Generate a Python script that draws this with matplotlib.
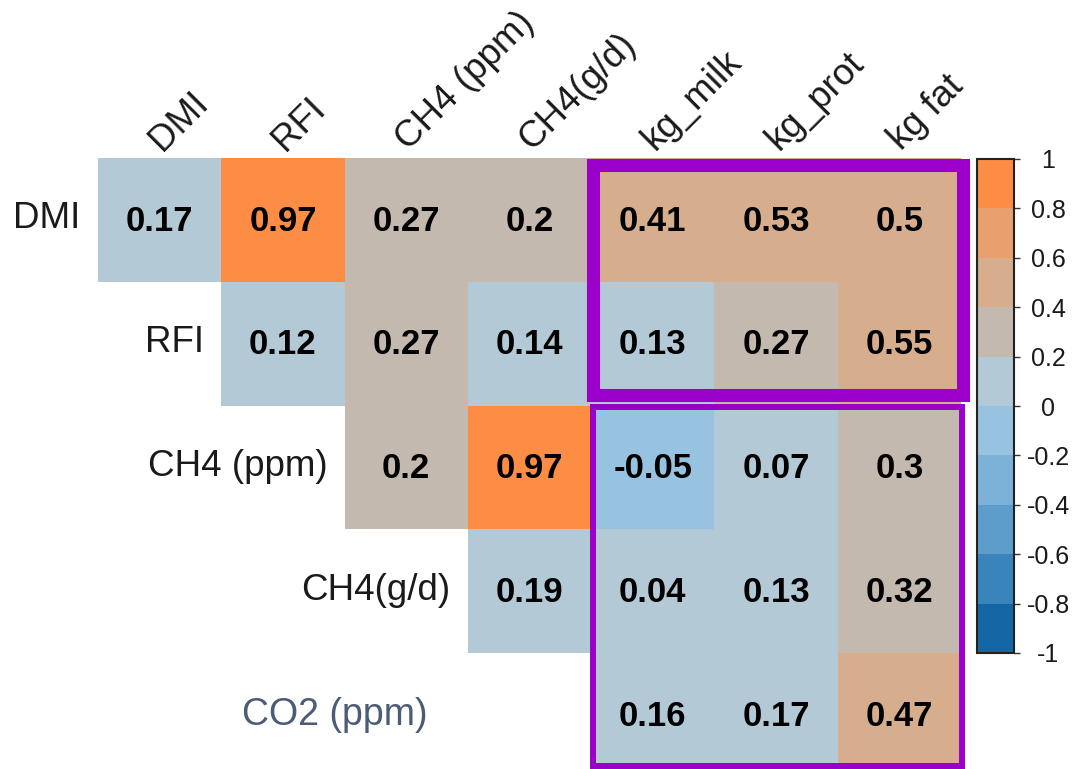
import numpy as np
import matplotlib
matplotlib.use('Agg')
import matplotlib.pyplot as plt
from matplotlib.colors import ListedColormap, BoundaryNorm
from matplotlib.patches import Rectangle

plt.rcParams['font.family'] = ['Liberation Sans', 'DejaVu Sans']

# Data
row_names = ['DMI', 'RFI', 'CH4 (ppm)', 'CH4(g/d)', 'CO2 (ppm)']
col_names = ['DMI', 'RFI', 'CH4 (ppm)', 'CH4(g/d)', 'kg_milk', 'kg_prot', 'kg fat']
dmi = [0.17, 0.97, 0.27, 0.2, 0.41, 0.53, 0.5]
rfi = [None, 0.12, 0.27, 0.14, 0.13, 0.27, 0.55]
ch4_ppm = [None, None, 0.2, 0.97, -0.05, 0.07, 0.3]
ch4_gd = [None, None, None, 0.19, 0.04, 0.13, 0.32]
co2_ppm = [None, None, None, None, 0.16, 0.17, 0.47]
cbar_ticks = [1, 0.8, 0.6, 0.4, 0.2, 0, -0.2, -0.4, -0.6, -0.8, -1]

rows = [dmi, rfi, ch4_ppm, ch4_gd, co2_ppm]
vals = np.array([[np.nan if v is None else v for v in r] for r in rows])
masked = np.ma.masked_invalid(vals)

colors = ['#1566a5', '#3a84bc', '#5c9dcb', '#7db2d8', '#97c3e1',
          '#b3c9d5', '#c4b9af', '#d7ae8d', '#e9a06f', '#fd8d45']
cmap = ListedColormap(colors)
bounds = np.round(np.linspace(-1, 1, 11), 1)
norm = BoundaryNorm(bounds, cmap.N)

fig = plt.figure(figsize=(10.72, 7.69), dpi=100)
ax = fig.add_axes([98/1072, -8/769, 863/1072, 619/769])
ax.pcolormesh(np.arange(-0.5, 7, 1), np.arange(-0.5, 5, 1), masked,
              cmap=cmap, norm=norm)
ax.set_xlim(-0.5, 6.5)
ax.set_ylim(4.5, -0.5)
ax.axis('off')

# cell values
for i in range(len(row_names)):
    for j in range(len(col_names)):
        v = vals[i, j]
        if not np.isnan(v):
            ax.text(j, i + 0.01, f'{v:g}', ha='center', va='center',
                    fontsize=25, fontweight='bold', color='black')

# row labels
for i, name in enumerate(row_names[:-1]):
    first = int(np.where(~np.isnan(vals[i]))[0][0])
    ax.text(first - 0.64, i - 0.01, name, ha='right', va='center',
            fontsize=26.5, color='#1a1a1a')
ax.text(1.42, 4, row_names[-1], ha='center', va='center',
        fontsize=27, color='#4b5b78')

# column labels
for j, name in enumerate(col_names):
    ax.text(j + 0.02, -0.55, name, rotation=45, rotation_mode='anchor',
            ha='left', va='baseline', fontsize=26.5, color='#1a1a1a')

# highlight boxes
ax.add_patch(Rectangle((3.515, -0.44), 3.0, 1.855, fill=False,
                       edgecolor='#9a00c9', linewidth=9.4, clip_on=False))
ax.add_patch(Rectangle((3.515, 1.508), 2.995, 2.9, fill=False,
                       edgecolor='#9a00c9', linewidth=4.3, clip_on=False))

# colorbar
cax = fig.add_axes([977/1072, 116/769, 37/1072, 494/769])
sm = plt.cm.ScalarMappable(cmap=cmap, norm=norm)
cb = fig.colorbar(sm, cax=cax, ticks=cbar_ticks)
cb.outline.set_linewidth(1.5)
cb.outline.set_edgecolor('#222222')
cb.ax.set_yticklabels([f'{t:g}' for t in cbar_ticks])
cb.ax.tick_params(length=4.5, width=1, color='#333333', pad=20,
                  labelsize=18, labelcolor='#1a1a1a')
for lab in cb.ax.get_yticklabels():
    lab.set_horizontalalignment('center')

fig.savefig('out.png', dpi=100)
